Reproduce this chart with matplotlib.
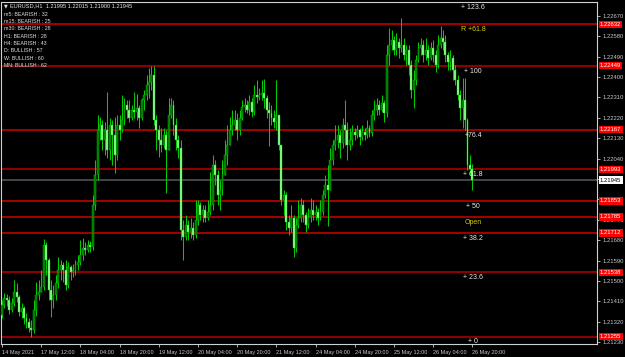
import numpy as np
import matplotlib
matplotlib.use("Agg")
import matplotlib.pyplot as plt
import matplotlib.transforms as mtransforms

# ---------------- data ----------------
first_open = 1.21350
closes = [
 1.21394, 1.21425, 1.21416, 1.21372, 1.21403, 1.21451, 1.21429, 1.21363, 1.21381, 1.21337,
 1.21319, 1.21292, 1.21284, 1.21372, 1.21438, 1.21451, 1.21473, 1.21659, 1.21592, 1.21460,
 1.21416, 1.21438, 1.21491, 1.21548, 1.21570, 1.21548, 1.21482, 1.21562, 1.21540, 1.21548,
 1.21570, 1.21584, 1.21614, 1.21645, 1.21637, 1.21659, 1.21650, 1.21835, 1.21967, 1.22166,
 1.22188, 1.22122, 1.22166, 1.22078, 1.22188, 1.22144, 1.22055, 1.22188, 1.22166, 1.22210,
 1.22276, 1.22254, 1.22219, 1.22254, 1.22245, 1.22263, 1.22219, 1.22298, 1.22320, 1.22364,
 1.22377, 1.22408, 1.22210, 1.22166, 1.22122, 1.22100, 1.22144, 1.22078, 1.22232, 1.22276,
 1.22188, 1.22122, 1.22086, 1.21725, 1.21694, 1.21747, 1.21716, 1.21734, 1.21703, 1.21769,
 1.21835, 1.21791, 1.21813, 1.21778, 1.21804, 1.21835, 1.22011, 1.21967, 1.21879, 1.21901,
 1.21967, 1.22055, 1.22100, 1.22166, 1.22188, 1.22210, 1.22166, 1.22219, 1.22267, 1.22276,
 1.22254, 1.22289, 1.22245, 1.22320, 1.22311, 1.22320, 1.22329, 1.22307, 1.22254, 1.22241,
 1.22219, 1.22201, 1.22232, 1.22100, 1.21857, 1.21879, 1.21760, 1.21734, 1.21778, 1.21645,
 1.21747, 1.21778, 1.21835, 1.21791, 1.21747, 1.21782, 1.21813, 1.21791, 1.21804, 1.21778,
 1.21804, 1.21879, 1.21923, 1.21901, 1.22033, 1.22100, 1.22122, 1.22144, 1.22108, 1.22188,
 1.22166, 1.22100, 1.22122, 1.22157, 1.22144, 1.22166, 1.22135, 1.22157, 1.22144, 1.22174,
 1.22152, 1.22232, 1.22254, 1.22276, 1.22254, 1.22285, 1.22241, 1.22496, 1.22541, 1.22563,
 1.22519, 1.22554, 1.22527, 1.22541, 1.22496, 1.22519, 1.22452, 1.22342, 1.22386, 1.22475,
 1.22527, 1.22541, 1.22496, 1.22519, 1.22483, 1.22527, 1.22496, 1.22452, 1.22541, 1.22571,
 1.22554, 1.22496, 1.22466, 1.22483, 1.22430, 1.22386, 1.22320, 1.22263, 1.22298, 1.22210,
 1.22011, 1.21995, 1.21945]
highs = [
 1.21416, 1.21447, 1.21442, 1.21434, 1.21425, 1.21504, 1.21491, 1.21438, 1.21403, 1.21390,
 1.21359, 1.21337, 1.21328, 1.21416, 1.21495, 1.21504, 1.21548, 1.21685, 1.21672, 1.21601,
 1.21504, 1.21482, 1.21526, 1.21606, 1.21593, 1.21584, 1.21593, 1.21584, 1.21570, 1.21575,
 1.21593, 1.21614, 1.21681, 1.21689, 1.21672, 1.21681, 1.21676, 1.21879, 1.22033, 1.22232,
 1.22223, 1.22210, 1.22201, 1.22333, 1.22219, 1.22210, 1.22223, 1.22232, 1.22232, 1.22320,
 1.22307, 1.22298, 1.22298, 1.22276, 1.22333, 1.22324, 1.22276, 1.22307, 1.22342, 1.22408,
 1.22439, 1.22448, 1.22448, 1.22232, 1.22188, 1.22174, 1.22174, 1.22166, 1.22307, 1.22307,
 1.22298, 1.22219, 1.22144, 1.22122, 1.21769, 1.21791, 1.21769, 1.21778, 1.21760, 1.21857,
 1.21857, 1.21848, 1.21835, 1.21835, 1.21857, 1.21980, 1.22055, 1.22033, 1.21990, 1.21946,
 1.22033, 1.22122, 1.22188, 1.22223, 1.22254, 1.22254, 1.22241, 1.22254, 1.22298, 1.22307,
 1.22298, 1.22320, 1.22307, 1.22364, 1.22386, 1.22351, 1.22386, 1.22391, 1.22320, 1.22289,
 1.22276, 1.22254, 1.22386, 1.22210, 1.22100, 1.21901, 1.21892, 1.21791, 1.21835, 1.21791,
 1.21778, 1.21857, 1.21866, 1.21857, 1.21804, 1.21822, 1.21866, 1.21857, 1.21835, 1.21822,
 1.21857, 1.21901, 1.21967, 1.22011, 1.22086, 1.22122, 1.22188, 1.22188, 1.22166, 1.22219,
 1.22298, 1.22201, 1.22174, 1.22188, 1.22174, 1.22188, 1.22174, 1.22188, 1.22174, 1.22210,
 1.22188, 1.22254, 1.22298, 1.22307, 1.22298, 1.22320, 1.22298, 1.22541, 1.22616, 1.22607,
 1.22580, 1.22593, 1.22571, 1.22660, 1.22571, 1.22541, 1.22541, 1.22475, 1.22430, 1.22496,
 1.22554, 1.22571, 1.22563, 1.22571, 1.22541, 1.22554, 1.22563, 1.22519, 1.22585, 1.22624,
 1.22607, 1.22585, 1.22510, 1.22519, 1.22496, 1.22452, 1.22408, 1.22342, 1.22395, 1.22395,
 1.22219, 1.22055, 1.22015]
lows = [
 1.21337, 1.21381, 1.21390, 1.21354, 1.21363, 1.21390, 1.21407, 1.21345, 1.21337, 1.21310,
 1.21292, 1.21275, 1.21255, 1.21271, 1.21345, 1.21416, 1.21460, 1.21460, 1.21526, 1.21416,
 1.21341, 1.21381, 1.21416, 1.21469, 1.21504, 1.21495, 1.21460, 1.21469, 1.21504, 1.21517,
 1.21526, 1.21548, 1.21570, 1.21593, 1.21614, 1.21628, 1.21628, 1.21637, 1.21813, 1.21946,
 1.22122, 1.22078, 1.22055, 1.22042, 1.22033, 1.22011, 1.21976, 1.22033, 1.22122, 1.22157,
 1.22188, 1.22219, 1.22201, 1.22210, 1.22219, 1.22210, 1.22174, 1.22210, 1.22254, 1.22298,
 1.22307, 1.22342, 1.22188, 1.22078, 1.22047, 1.22069, 1.22086, 1.21888, 1.22078, 1.22219,
 1.22144, 1.22078, 1.22042, 1.21681, 1.21593, 1.21681, 1.21681, 1.21689, 1.21681, 1.21689,
 1.21747, 1.21769, 1.21760, 1.21760, 1.21769, 1.21791, 1.21813, 1.21923, 1.21835, 1.21813,
 1.21879, 1.21967, 1.22011, 1.22100, 1.22144, 1.22166, 1.22122, 1.22144, 1.22210, 1.22245,
 1.22241, 1.22232, 1.22223, 1.22232, 1.22285, 1.22298, 1.22298, 1.22263, 1.22219, 1.22095,
 1.22188, 1.22174, 1.22166, 1.22078, 1.21835, 1.21791, 1.21725, 1.21703, 1.21716, 1.21606,
 1.21628, 1.21734, 1.21760, 1.21760, 1.21716, 1.21734, 1.21760, 1.21769, 1.21769, 1.21747,
 1.21769, 1.21791, 1.21866, 1.21742, 1.21901, 1.22011, 1.22078, 1.22086, 1.22042, 1.22086,
 1.22100, 1.22033, 1.22078, 1.22100, 1.22122, 1.22130, 1.22100, 1.22122, 1.22122, 1.22130,
 1.22135, 1.22139, 1.22210, 1.22232, 1.22232, 1.22245, 1.22201, 1.22223, 1.22452, 1.22519,
 1.22496, 1.22496, 1.22483, 1.22510, 1.22475, 1.22452, 1.22408, 1.22307, 1.22263, 1.22364,
 1.22466, 1.22496, 1.22466, 1.22475, 1.22452, 1.22475, 1.22466, 1.22421, 1.22439, 1.22527,
 1.22519, 1.22466, 1.22430, 1.22430, 1.22386, 1.22364, 1.22298, 1.22210, 1.22174, 1.22166,
 1.21990, 1.21967, 1.21900]

x_tick_bars = [0, 16, 32, 48, 64, 80, 96, 112, 128, 144, 160, 176, 192]
x_tick_labels = ["14 May 2021", "17 May 12:00", "18 May 04:00", "18 May 20:00",
                 "19 May 12:00", "20 May 04:00", "20 May 20:00", "21 May 12:00",
                 "24 May 04:00", "24 May 20:00", "25 May 12:00", "26 May 04:00",
                 "26 May 20:00"]
y_ticks = [1.22670, 1.22580, 1.22490, 1.22400, 1.22310, 1.22220, 1.22130, 1.22040,
           1.21950, 1.21860, 1.21770, 1.21680, 1.21590, 1.21500, 1.21410, 1.21320, 1.21230]
# labels of 1.21950 / 1.21860 are fully covered by price boxes in the reference
y_tick_labels = ["1.22670", "1.22580", "1.22490", "1.22400", "1.22310", "1.22220",
                 "1.22130", "1.22040", "", "", "1.21770", "1.21680", "1.21590",
                 "1.21500", "1.21410", "1.21320", "1.21230"]

level_prices = [1.22731, 1.22632, 1.22449, 1.22167, 1.21993, 1.21853, 1.21783,
                1.21712, 1.21538, 1.21255]
level_labels = ["+ 123.6", "R +61.8", "+ 100", "+76.4", "+ 61.8", "+ 50", "Open",
                "+ 38.2", "+ 23.6", "+ 0"]
level_dark = [True, False, True, False, True, False, False, False, True, True]
level_yellow = [False, True, False, False, False, False, True, False, False, False]
level_box = ["", "1.22632", "1.22449", "1.22167", "1.21993", "1.21853", "1.21785",
             "1.21712", "1.21538", "1.21255"]
bid_price = 1.21945

header = "EURUSD,H1  1.21995 1.22015 1.21900 1.21945"
trend_lines = ["m5: BEARISH : 32", "m15: BEARISH : 25", "m30: BEARISH : 28",
               "H1: BEARISH : 28", "H4: BEARISH : 43", "D: BULLISH : 57",
               "W: BULLISH : 60", "MN: BULLISH : 62"]

# ---------------- drawing ----------------
W, H = 625, 357
SANS = ['Liberation Sans', 'DejaVu Sans']

fig = plt.figure(figsize=(W / 100, H / 100), dpi=100, facecolor='black')
ax = fig.add_axes([1 / W, (H - 344) / H, 596 / W, 342 / H], facecolor='black')

c = np.array(closes)
o = np.array([first_open] + closes[:-1])
h = np.maximum(np.array(highs), np.maximum(o, c))
l = np.minimum(np.array(lows), np.minimum(o, c))
x = np.arange(len(c))

wick_col = '#00cc00'
bull_col = '#007000'
bear_col = '#a0ffa0'

ax.vlines(x, l, h, color=wick_col, lw=0.75, zorder=3)
up = c >= o
body_bottom = np.minimum(o, c)
body_h = np.maximum(np.abs(c - o), 0.00002)
ax.bar(x[up], body_h[up], bottom=body_bottom[up], width=0.8,
       color=bull_col, edgecolor=wick_col, lw=0.3, zorder=4)
ax.bar(x[~up], body_h[~up], bottom=body_bottom[~up], width=0.8,
       color=bear_col, edgecolor=wick_col, lw=0.3, zorder=4)

# levels
trans_box = mtransforms.blended_transform_factory(ax.transAxes, ax.transData)
for p, lab, dark, yel, box in zip(level_prices, level_labels, level_dark,
                                  level_yellow, level_box):
    ax.axhline(p, color='#8c0000' if dark else '#d00000',
               lw=1.5 if dark else 1.1, zorder=1)
    ax.annotate(lab, (x[-1] + 0.3, p), xytext=(0, -3.8), textcoords='offset points',
                ha='center', va='center', fontsize=5.0, family=SANS,
                color='#d8d000' if yel else '#e8e8e8', zorder=6,
                annotation_clip=False)
    if box:
        ax.text(1.005, p, box, transform=trans_box, ha='left', va='center',
                fontsize=4.2, family=SANS, color='white', zorder=10,
                bbox=dict(boxstyle='square,pad=0.2', facecolor='#ff0000',
                          edgecolor='none'))

ax.axhline(bid_price, color='#40454f', lw=1.4, zorder=1)
ax.text(1.005, bid_price, "1.21945", transform=trans_box, ha='left', va='center',
        fontsize=4.2, family=SANS, color='black', zorder=10,
        bbox=dict(boxstyle='square,pad=0.2', facecolor='white', edgecolor='none'))

ax.set_xlim(-0.408, 242.86)
ax.set_ylim(1.212224, 1.227304)

ax.yaxis.tick_right()
ax.set_yticks(y_ticks)
ax.set_yticklabels(y_tick_labels)
ax.set_xticks(x_tick_bars)
ax.set_xticklabels(x_tick_labels)
ax.tick_params(axis='y', colors='#c8c8c8', length=2.5, width=0.6, pad=1.5,
               labelsize=4.2)
ax.tick_params(axis='x', colors='#c8c8c8', length=2.5, width=0.6, pad=1.5,
               labelsize=4.0)
for t in ax.get_xticklabels() + ax.get_yticklabels():
    t.set_family(SANS)
for t in ax.get_xticklabels():
    t.set_ha('left')
for s in ax.spines.values():
    s.set_color('#d0d0d0')
    s.set_linewidth(0.8)

# header texts
def fx(px):
    return px / W

def fy(py):
    return 1 - py / H

fig.text(fx(3.5), fy(6), "\u25bc", fontsize=3.5, color='#e8e8e8', va='center',
         ha='left', family=['DejaVu Sans'])
fig.text(fx(10), fy(6), header, fontsize=4.1, color='#e8e8e8', va='center',
         ha='left', family=SANS)
for k, t in enumerate(trend_lines):
    fig.text(fx(4), fy(14.3 + 7.3 * k), t, fontsize=3.8, color='#e0e0e0',
             va='center', ha='left', family=SANS)

fig.savefig('out.png', dpi=100, facecolor='black')
